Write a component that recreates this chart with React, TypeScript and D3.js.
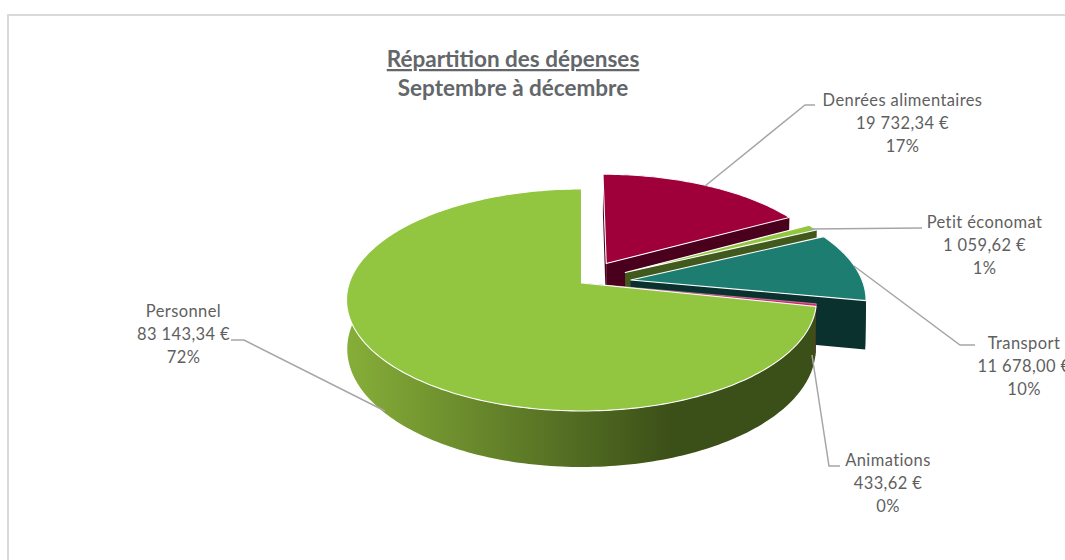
import React from "react";
import * as d3 from "d3";

const categories = ["Denrées alimentaires", "Petit économat", "Transport", "Animations", "Personnel"];
const amounts = [19732.34, 1059.62, 11678.0, 433.62, 83143.34];
const amountLabels = ["19 732,34 €", "1 059,62 €", "11 678,00 €", "433,62 €", "83 143,34 €"];
const percentLabels = ["17%", "1%", "10%", "0%", "72%"];
const exploded = [0.215, 0.215, 0.215, 0, 0];
const topColors = ["#A0003A", "#92C540", "#1C7D70", "#D6246E", "#92C540"];
const sideColors = ["#4A001C", "#41591C", "#0A312E", "#6B0F35", "url(#pSide)"];

const titleLines = ["Répartition des dépenses", "Septembre à décembre"];

const leaders = [
  [[815, 105], [805, 105], [705, 186]],
  [[922, 228], [810, 229]],
  [[975, 345], [960, 345], [854, 266]],
  [[840, 466], [829, 466], [812, 355]],
  [[231, 340], [244, 340], [385, 411]],
];
const labelPos = [
  { x: 902.5, y: 106 },
  { x: 984.5, y: 228 },
  { x: 1024, y: 349 },
  { x: 888, y: 466 },
  { x: 183.5, y: 317 },
];

const CX = 581.5, CY = 283, RX = 232.2, RY = 108.4, K = 0.153, H = 48, M = 0.003;

type P = [number, number];
const project = (u: number, v: number, z: number): P => {
  const w = 1 + K * v + M * z;
  return [CX + (RX * u) / w, CY - (RY * v) / w + (H * z) / w];
};
const lineGen = d3.line<P>();
const linkLine = d3.line<number[]>().x((d) => d[0]).y((d) => d[1]);

const arcs = d3.pie<number>().sort(null).value((d) => d).startAngle(0).endAngle(2 * Math.PI)(amounts);

const rim = (a0: number, a1: number, ou: number, ov: number, z: number): P[] => {
  const n = Math.max(2, Math.ceil(Math.abs(a1 - a0) / 0.02));
  return d3.range(n + 1).map((i) => {
    const a = a0 + ((a1 - a0) * i) / n;
    return project(ou + Math.sin(a), ov + Math.cos(a), z);
  });
};

export default function App() {
  const font = "Lato, 'Open Sans', sans-serif";
  return (
    <svg
      width={1065}
      height={560}
      style={{ position: "absolute", left: 0, top: 0, display: "block", background: "#fff" }}
      fontFamily={font}
    >
      <defs>
        <linearGradient id="pSide" gradientUnits="userSpaceOnUse" x1={350} x2={673} y1={0} y2={0}>
          <stop offset="0" stopColor="#86AD38" />
          <stop offset="1" stopColor="#3B4F18" />
        </linearGradient>
      </defs>
      <path d="M8 560V15H1065" fill="none" stroke="#D9D9D9" strokeWidth={2} />

      {titleLines.map((t, i) => (
        <text
          key={t}
          x={513}
          y={67 + i * 29}
          textAnchor="middle"
          fontSize={22.5}
          fontWeight={700}
          fill="#63666A"
          textDecoration={i === 0 ? "underline" : undefined}
        >
          {t}
        </text>
      ))}

      {arcs.map((d, i) => {
        const bis = (d.startAngle + d.endAngle) / 2;
        const ou = exploded[i] * Math.sin(bis);
        const ov = exploded[i] * Math.cos(bis);
        const side = sideColors[i];
        const wallA0 = d.startAngle;
        const wallA1 = i === 4 ? Math.min(d.endAngle, (295 * Math.PI) / 180) : d.endAngle;
        const wall = [...rim(wallA0, wallA1, ou, ov, 0), ...rim(wallA1, wallA0, ou, ov, 1)];
        const face = (a: number): P[] => {
          const tip: P = [ou + Math.sin(a), ov + Math.cos(a)];
          return [
            project(ou, ov, 0),
            project(tip[0], tip[1], 0),
            project(tip[0], tip[1], 1),
            project(ou, ov, 1),
          ];
        };
        const top = [project(ou, ov, 0), ...rim(d.startAngle, d.endAngle, ou, ov, 0)];
        return (
          <g key={categories[i]}>
            {i !== 4 && <path d={lineGen(face(d.startAngle))! + "Z"} fill={side} />}
            {i !== 4 && <path d={lineGen(face(d.endAngle))! + "Z"} fill={side} />}
            <path d={lineGen(wall)! + "Z"} fill={side} />
            <path
              d={lineGen(top)! + "Z"}
              fill={topColors[i]}
              stroke="#fff"
              strokeWidth={i === 3 ? 0.4 : 1.1}
              strokeLinejoin="round"
            />
          </g>
        );
      })}

      {leaders.map((l, i) => (
        <path key={i} d={linkLine(l)!} fill="none" stroke="#A6A6A6" strokeWidth={1.5} />
      ))}

      {categories.map((c, i) => (
        <text key={c} textAnchor="middle" fontSize={16.5} letterSpacing={0.4} fill="#5F5F5F">
          {[c, amountLabels[i], percentLabels[i]].map((t, j) => (
            <tspan key={j} x={labelPos[i].x} y={labelPos[i].y + j * 22.8}>
              {t}
            </tspan>
          ))}
        </text>
      ))}
    </svg>
  );
}
